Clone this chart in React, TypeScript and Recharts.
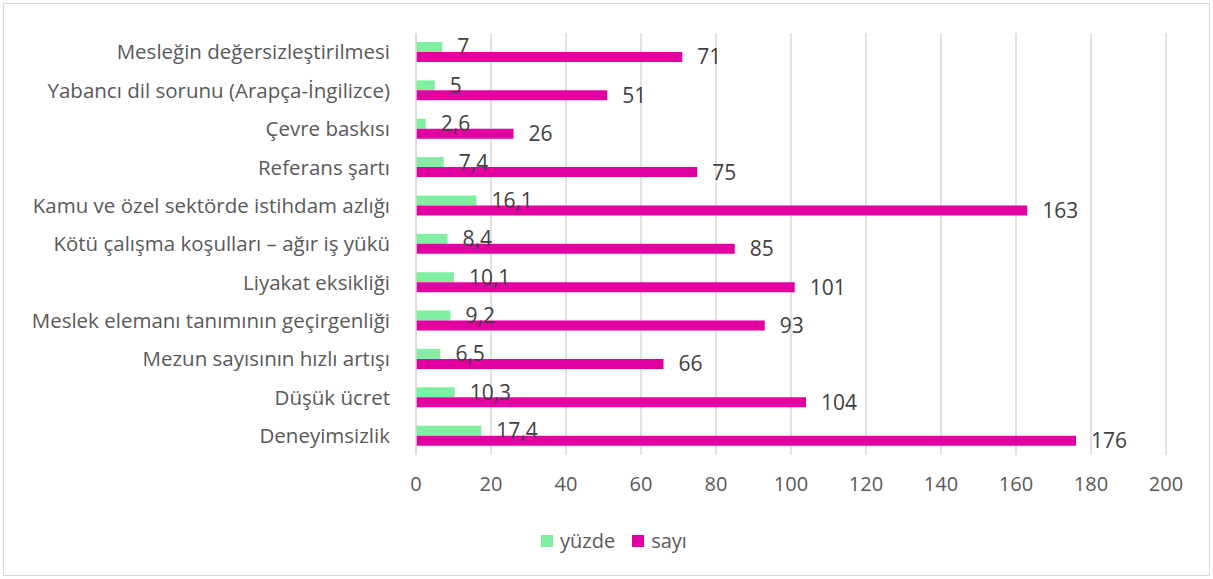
import { Bar, BarChart, CartesianGrid, LabelList, XAxis, YAxis } from "recharts";

const categories = [
  "Mesleğin değersizleştirilmesi",
  "Yabancı dil sorunu (Arapça-İngilizce)",
  "Çevre baskısı",
  "Referans şartı",
  "Kamu ve özel sektörde istihdam azlığı",
  "Kötü çalışma koşulları – ağır iş yükü",
  "Liyakat eksikliği",
  "Meslek elemanı tanımının geçirgenliği",
  "Mezun sayısının hızlı artışı",
  "Düşük ücret ",
  "Deneyimsizlik",
];
const yuzde = [7, 5, 2.6, 7.4, 16.1, 8.4, 10.1, 9.2, 6.5, 10.3, 17.4];
const sayi = [71, 51, 26, 75, 163, 85, 101, 93, 66, 104, 176];
const xTicks = [0, 20, 40, 60, 80, 100, 120, 140, 160, 180, 200];
const legendItems = [
  { label: "yüzde", color: "#80EFA2" },
  { label: "sayı", color: "#E300A0" },
];

const data = categories.map((name, i) => ({ name, yuzde: yuzde[i], sayi: sayi[i] }));

const FONT = "'Open Sans', sans-serif";

const fmt = (v: unknown) => String(v).replace(".", ",");

function LegendBox() {
  return (
    <div
      style={{
        position: "absolute",
        left: 541,
        top: 527,
        display: "flex",
        gap: 17,
        fontSize: 20,
        color: "#595959",
        fontFamily: FONT,
      }}
    >
      {legendItems.map((it) => (
        <span key={it.label} style={{ display: "flex", alignItems: "center", gap: 7 }}>
          <span style={{ width: 12, height: 12, background: it.color, display: "inline-block" }} />
          {it.label}
        </span>
      ))}
    </div>
  );
}

export default function App() {
  return (
    <div style={{ position: "fixed", left: 0, top: 0, width: 1213, height: 579, background: "#fff" }}>
      <div
        style={{
          position: "absolute",
          left: 3,
          top: 3,
          width: 1205,
          height: 571,
          border: "1px solid #d9d9d9",
        }}
      />
      <BarChart
        width={1213}
        height={579}
        data={data}
        layout="vertical"
        margin={{ top: 33, right: 47, bottom: 84, left: 4 }}
        barGap={0}
        barSize={10}
        style={{ position: "absolute", left: 0, top: 0, fontFamily: FONT }}
      >
        <CartesianGrid horizontal={false} stroke="#d9d9d9" strokeWidth={1.5} />
        <XAxis
          type="number"
          domain={[0, 200]}
          ticks={xTicks}
          axisLine={false}
          tickLine={false}
          tickSize={0}
          tick={{ fontSize: 20, fill: "#595959" }}
          tickMargin={22}
          height={40}
        />
        <YAxis
          type="category"
          dataKey="name"
          width={412}
          axisLine={{ stroke: "#d9d9d9", strokeWidth: 1.5 }}
          tickLine={false}
          tickSize={0}
          tickMargin={26}
          tick={{ fontSize: 20.5, fill: "#595959" }}
          interval={0}
        />
        <Bar dataKey="yuzde" name="yüzde" fill={legendItems[0].color} isAnimationActive={false}>
          <LabelList dataKey="yuzde" position="right" offset={15} formatter={fmt} style={{ fontSize: 21, fill: "#404040" }} />
        </Bar>
        <Bar dataKey="sayi" name="sayı" fill={legendItems[1].color} isAnimationActive={false}>
          <LabelList dataKey="sayi" position="right" offset={15} formatter={fmt} style={{ fontSize: 21, fill: "#404040" }} />
        </Bar>
      </BarChart>
      <LegendBox />
    </div>
  );
}
